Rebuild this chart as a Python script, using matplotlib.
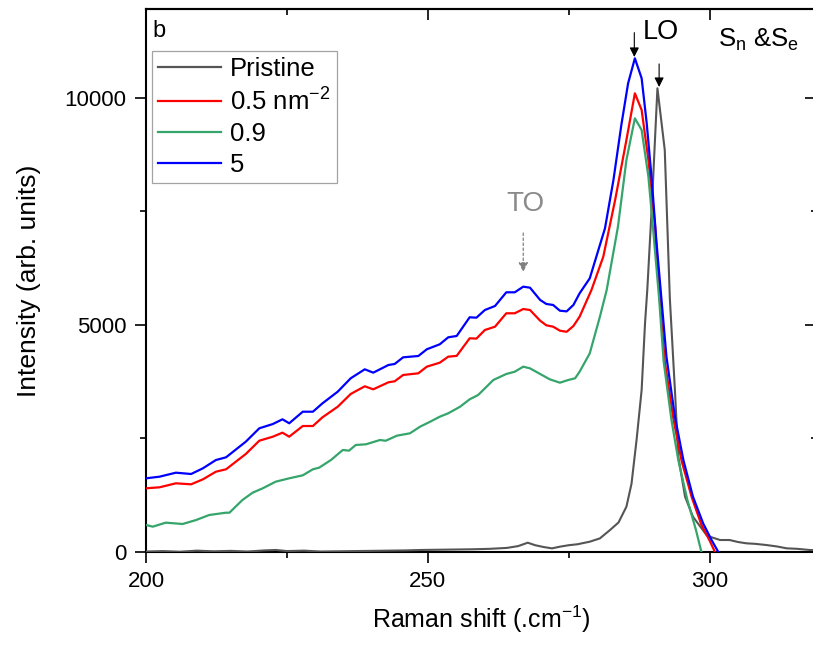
import matplotlib
matplotlib.use("Agg")
import matplotlib.pyplot as plt

plt.rcParams['font.family'] = ['Liberation Sans', 'DejaVu Sans']
plt.rcParams['mathtext.fontset'] = 'custom'
plt.rcParams['mathtext.rm'] = 'Liberation Sans'
plt.rcParams['mathtext.it'] = 'Liberation Sans:italic'
plt.rcParams['mathtext.bf'] = 'Liberation Sans:bold'

# ---- data ----
x_pristine = [200, 203, 206, 209, 212, 215, 218, 221, 223, 225, 228, 231, 234, 237, 240,
              243, 246, 249, 252, 255, 258, 261, 264, 266, 267.7, 269, 270.5, 272, 273.4,
              275, 276.5, 278.7, 280.5, 282.3, 283.8, 285.2, 286.1, 287.0, 287.9, 288.5,
              288.9, 289.7, 290.7, 292.0, 292.9, 293.8, 294.4, 295.6, 297.0, 299.4, 300.0,
              301.8, 303.5, 305, 306.5, 308, 310.0, 312, 313.6, 315.5, 317.7, 319]
y_pristine = [10, 20, 5, 30, 15, 25, 10, 35, 45, 20, 30, 10, 15, 20, 25,
              30, 35, 45, 50, 55, 60, 70, 90, 130, 205, 150, 110, 80, 117,
              150, 170, 227, 300, 485, 650, 998, 1500, 2467, 3568, 5037,
              5771, 7606, 10214, 8855, 5590, 3568, 2100, 1218, 778, 374, 337,
              264, 264, 220, 191, 180, 154, 120, 81, 70, 44, 40]

x_05 = [200.0, 202.4, 205.3, 208.0, 210.1, 212.4, 214.2, 217.7, 220.1, 222.5, 224.2, 225.4,
        227.8, 229.6, 231.3, 234.0, 236.3, 238.8, 240.3, 243.0, 244.1, 245.6, 248.3, 249.8,
        252.1, 253.6, 255.1, 257.4, 258.6, 260.1, 261.9, 263.9, 265.4, 266.9, 268.1, 269.9,
        271.0, 272.2, 273.4, 274.6, 275.8, 276.9, 279.0, 281.1, 283.2, 285.2, 286.7, 287.9,
        289.1, 290.3, 291.1, 292.0, 293.5, 295.0, 296.8, 298.5, 300.0, 300.9]
y_05 = [1403, 1425, 1513, 1491, 1601, 1769, 1822, 2159, 2452, 2540, 2628, 2540,
        2775, 2775, 2967, 3200, 3480, 3650, 3583, 3738, 3760, 3899, 3936, 4082,
        4170, 4302, 4320, 4707, 4700, 4890, 4963, 5258, 5258, 5352, 5330, 5095,
        4993, 4963, 4875, 4850, 4978, 5183, 5771, 6505, 7753, 9075, 10103, 9736,
        8634, 7165, 5588, 4200, 2950, 2000, 1200, 600, 240, 0]

x_09 = [200.0, 201.2, 203.5, 206.5, 208.9, 211.2, 214.2, 214.8, 217.1, 218.9, 220.7, 223.0,
        225.4, 227.8, 229.6, 230.7, 232.8, 234.9, 236.0, 237.2, 239.0, 241.5, 242.5, 244.5,
        246.8, 248.6, 250.4, 252.1, 253.6, 255.7, 257.4, 258.9, 260.4, 261.6, 263.9, 265.4,
        266.9, 268.1, 269.9, 271.6, 273.4, 274.9, 276.1, 276.9, 278.7, 280.5, 281.7, 283.7,
        285.2, 286.7, 287.9, 289.1, 289.9, 291.0, 291.8, 293.2, 294.4, 296.0, 297.5, 298.5]
y_09 = [595, 558, 646, 617, 705, 815, 866, 866, 1145, 1306, 1403, 1549,
        1623, 1689, 1822, 1857, 2026, 2247, 2232, 2357, 2372, 2467, 2450, 2562,
        2614, 2760, 2870, 2980, 3055, 3200, 3363, 3458, 3641, 3789, 3921, 3971,
        4082, 4045, 3921, 3804, 3729, 3789, 3826, 3971, 4376, 5183, 5771, 7165,
        8634, 9552, 9295, 8267, 7165, 5588, 4200, 2900, 2026, 1150, 500, 0]

x_5 = [200.0, 202.4, 205.3, 208.0, 210.1, 212.4, 214.2, 217.7, 220.1, 222.5, 224.2, 225.4,
       227.8, 229.6, 231.3, 234.0, 236.3, 238.8, 240.3, 243.0, 244.1, 245.6, 248.3, 249.8,
       252.1, 253.6, 255.1, 257.4, 258.6, 260.1, 261.9, 263.9, 265.4, 266.9, 268.1, 269.9,
       271.0, 272.2, 273.4, 274.6, 275.8, 276.9, 278.7, 281.4, 282.9, 284.3, 285.5, 286.7,
       287.9, 288.8, 289.7, 290.5, 291.4, 292.3, 293.8, 295.3, 297.0, 298.8, 300.3, 301.5]
y_5 = [1623, 1659, 1747, 1718, 1844, 2026, 2086, 2430, 2725, 2819, 2923, 2835,
       3090, 3090, 3275, 3531, 3826, 4024, 3950, 4119, 4141, 4288, 4317, 4465,
       4575, 4729, 4758, 5170, 5161, 5330, 5419, 5720, 5720, 5844, 5822, 5551,
       5463, 5441, 5315, 5300, 5441, 5698, 6028, 7130, 8194, 9405, 10323, 10874,
       10434, 9443, 8194, 6872, 5588, 4302, 2980, 2026, 1218, 632, 264, 0]

series_labels = ['Pristine', '0.5 nm$^{-2}$', '0.9', '5']
series_colors = ['#555555', '#ff0000', '#35a56b', '#0000ff']

x_ticks_major = [200, 250, 300]
y_ticks_major = [0, 5000, 10000]

# ---- figure ----
fig = plt.figure(figsize=(8.13, 6.46), dpi=100)
W, H = 813, 646
ax = fig.add_axes([146 / W, (H - 552) / H, (817 - 146) / W, (552 - 9) / H])

ax.plot(x_pristine, y_pristine, color=series_colors[0], lw=1.5, label=series_labels[0], zorder=3)
ax.plot(x_05, y_05, color=series_colors[1], lw=1.6, label=series_labels[1], zorder=4)
ax.plot(x_09, y_09, color=series_colors[2], lw=1.6, label=series_labels[2], zorder=4)
ax.plot(x_5, y_5, color=series_colors[3], lw=1.6, label=series_labels[3], zorder=4)

ax.set_xlim(200, 319)
ax.set_ylim(0, 11960)
ax.set_xticks(x_ticks_major)
ax.set_xticks([225, 275], minor=True)
ax.set_yticks(y_ticks_major)
ax.set_yticks([2500, 7500], minor=True)
ax.tick_params(axis='both', which='major', direction='out', length=8, width=1.2,
               labelsize=16, pad=6)
ax.tick_params(axis='both', which='minor', direction='out', length=4, width=1.2)
for s in ax.spines.values():
    s.set_linewidth(1.5)

secx = ax.secondary_xaxis('top')
secx.set_xticks(x_ticks_major)
secx.set_xticks([225, 275], minor=True)
secx.tick_params(which='major', direction='in', length=8, width=1.2, labeltop=False)
secx.tick_params(which='minor', direction='in', length=4, width=1.2)
secx.spines['top'].set_linewidth(1.5)

secy = ax.secondary_yaxis('right')
secy.set_yticks(y_ticks_major)
secy.set_yticks([2500, 7500], minor=True)
secy.tick_params(which='major', direction='in', length=9, width=1.2, labelright=False)
secy.tick_params(which='minor', direction='in', length=4, width=1.2)

ax.set_xlabel('Raman shift (.cm$^{-1}$)', fontsize=18, labelpad=8)
ax.set_ylabel('Intensity (arb. units)', fontsize=19, labelpad=17)

# annotations
ax.text(201.2, 11343, 'b', fontsize=17, ha='left', va='baseline')
ax.text(288.1, 11454, 'LO', fontsize=19.5, ha='left', va='center')
ax.text(301.4, 11123, 'S$_\\mathrm{n}$ &S$_\\mathrm{e}$', fontsize=18.5, ha='left', va='baseline')
ax.text(267.3, 7665, 'TO', fontsize=20, ha='center', va='center', color='#8a8a8a')

arrow_kw = dict(arrowstyle='-|>', color='black', lw=0.8, mutation_scale=14,
                shrinkA=0, shrinkB=0)
ax.annotate('', xy=(286.6, 10903), xytext=(286.6, 11440), arrowprops=arrow_kw, zorder=6)
ax.annotate('', xy=(291.0, 10242), xytext=(291.0, 10750), arrowprops=arrow_kw, zorder=6)
ax.annotate('', xy=(266.9, 6167), xytext=(266.9, 7026),
            arrowprops=dict(arrowstyle='-|>', color='#808080', lw=0.9, mutation_scale=14,
                            linestyle=(0, (2, 2)), shrinkA=0, shrinkB=0), zorder=6)

leg = ax.legend(loc='upper left', bbox_to_anchor=(152 / W, 1 - 51 / H),
                bbox_transform=fig.transFigure, borderaxespad=0, fontsize=18.5,
                frameon=True, fancybox=False, edgecolor='#8c8c8c',
                handlelength=2.45, handletextpad=0.35, labelspacing=0.26,
                borderpad=0.25)
leg.get_frame().set_linewidth(0.9)
for line in leg.get_lines():
    line.set_linewidth(1.6)

fig.savefig('out.png', dpi=100)
